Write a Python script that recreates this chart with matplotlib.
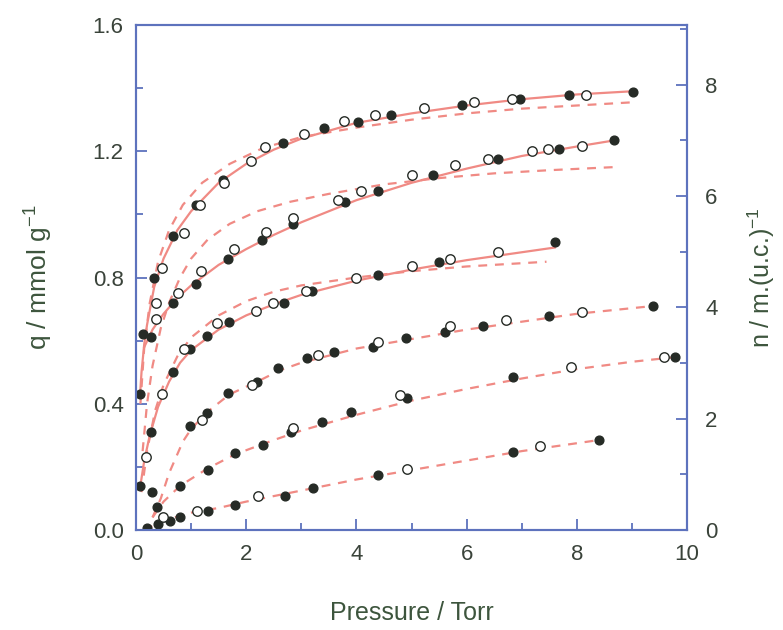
import matplotlib.pyplot as plt
import numpy as np
from matplotlib.ticker import MultipleLocator

plt.rcParams['font.family'] = ['Liberation Sans', 'DejaVu Sans']
plt.rcParams['mathtext.fontset'] = 'custom'
plt.rcParams['mathtext.rm'] = 'Liberation Sans'

# series 1 (top)
s1_fill_p = [0.07, 0.12, 0.33, 0.67, 1.08, 1.58, 2.67, 3.41, 4.02, 4.62, 5.92, 6.97, 7.86, 9.02]
s1_fill_q = [0.43, 0.62, 0.80, 0.93, 1.03, 1.11, 1.225, 1.275, 1.293, 1.315, 1.345, 1.367, 1.377, 1.389]
s1_open_p = [0.36, 0.36, 0.47, 0.87, 1.16, 1.60, 2.08, 2.35, 3.04, 3.78, 4.34, 5.23, 6.13, 6.82, 8.17]
s1_open_q = [0.67, 0.72, 0.83, 0.94, 1.03, 1.10, 1.17, 1.215, 1.255, 1.295, 1.315, 1.338, 1.355, 1.367, 1.377]
s1_fit_p = [0.07, 0.1, 0.15, 0.2, 0.33, 0.5, 0.75, 1.0, 1.5, 2.0, 2.5, 3.0, 4.0, 5.0, 6.0, 7.0, 8.0, 9.0]
s1_fit_q = [0.42, 0.50, 0.59, 0.65, 0.77, 0.86, 0.95, 1.01, 1.10, 1.16, 1.205, 1.24, 1.29, 1.32, 1.345, 1.365, 1.38, 1.39]
s1_dash_p = [0.08, 0.15, 0.25, 0.4, 0.6, 0.85, 1.2, 1.7, 2.3, 3.0, 4.0, 5.0, 6.0, 7.0, 8.0, 9.0]
s1_dash_q = [0.40, 0.58, 0.72, 0.85, 0.95, 1.03, 1.10, 1.16, 1.21, 1.245, 1.275, 1.30, 1.32, 1.335, 1.345, 1.355]

# series 2
s2_fill_p = [0.27, 0.67, 1.09, 1.67, 2.29, 2.85, 3.79, 4.39, 5.39, 6.57, 7.68, 8.68]
s2_fill_q = [0.61, 0.72, 0.78, 0.86, 0.92, 0.97, 1.04, 1.075, 1.125, 1.177, 1.208, 1.237]
s2_open_p = [0.76, 1.18, 1.78, 2.36, 2.85, 3.67, 4.08, 5.0, 5.79, 6.39, 7.19, 7.48, 8.09]
s2_open_q = [0.75, 0.82, 0.89, 0.945, 0.99, 1.047, 1.075, 1.125, 1.158, 1.177, 1.20, 1.208, 1.218]
s2_fit_p = [0.15, 0.3, 0.5, 0.75, 1.0, 1.5, 2.0, 2.5, 3.0, 3.5, 4.0, 5.0, 6.0, 7.0, 8.0, 8.7]
s2_fit_q = [0.58, 0.635, 0.685, 0.735, 0.775, 0.84, 0.89, 0.935, 0.975, 1.01, 1.045, 1.10, 1.145, 1.185, 1.215, 1.235]
s2_dash_p = [0.12, 0.2, 0.3, 0.45, 0.6, 0.8, 1.0, 1.3, 1.7, 2.2, 2.8, 3.5, 4.5, 5.5, 6.5, 7.5, 8.7]
s2_dash_q = [0.25, 0.40, 0.52, 0.64, 0.72, 0.80, 0.86, 0.92, 0.97, 1.01, 1.04, 1.065, 1.095, 1.115, 1.13, 1.14, 1.15]

# series 3
s3_fill_p = [0.07, 0.28, 0.67, 0.98, 1.29, 1.69, 2.69, 3.19, 4.39, 5.5, 7.6]
s3_fill_q = [0.14, 0.31, 0.50, 0.573, 0.614, 0.658, 0.72, 0.756, 0.807, 0.848, 0.911]
s3_open_p = [0.18, 0.47, 0.87, 1.47, 2.18, 2.49, 3.09, 3.99, 5.0, 5.7, 6.57]
s3_open_q = [0.23, 0.43, 0.573, 0.655, 0.693, 0.72, 0.756, 0.80, 0.835, 0.858, 0.88]
s3_fit_p = [0.07, 0.15, 0.25, 0.4, 0.6, 0.8, 1.0, 1.5, 2.0, 2.5, 3.0, 4.0, 5.0, 6.0, 7.0, 7.6]
s3_fit_q = [0.13, 0.22, 0.30, 0.39, 0.47, 0.53, 0.57, 0.635, 0.68, 0.715, 0.745, 0.79, 0.825, 0.855, 0.88, 0.895]
s3_dash_p = [0.1, 0.2, 0.35, 0.5, 0.75, 1.0, 1.5, 2.0, 2.5, 3.0, 4.0, 5.0, 6.0, 7.45]
s3_dash_q = [0.12, 0.25, 0.38, 0.46, 0.55, 0.61, 0.68, 0.725, 0.755, 0.775, 0.80, 0.82, 0.835, 0.85]

# series 4
s4_fill_p = [0.29, 0.98, 1.29, 1.67, 2.2, 2.58, 3.1, 3.6, 4.3, 4.9, 5.6, 6.3, 7.5, 9.38]
s4_fill_q = [0.12, 0.33, 0.37, 0.433, 0.47, 0.513, 0.544, 0.563, 0.58, 0.607, 0.627, 0.645, 0.677, 0.709]
s4_open_p = [1.2, 2.1, 3.3, 4.4, 5.7, 6.72, 8.1]
s4_open_q = [0.35, 0.46, 0.554, 0.595, 0.645, 0.665, 0.69]
s4_dash_p = [0.3, 0.45, 0.6, 0.85, 1.0, 1.3, 1.7, 2.2, 2.6, 3.0, 4.0, 5.0, 6.0, 7.0, 8.0, 9.4]
s4_dash_q = [0.04, 0.10, 0.18, 0.28, 0.32, 0.375, 0.43, 0.47, 0.505, 0.53, 0.575, 0.605, 0.635, 0.66, 0.685, 0.71]

# series 5
s5_fill_p = [0.38, 0.8, 1.3, 1.8, 2.3, 2.81, 3.37, 3.9, 4.92, 6.84, 9.78]
s5_fill_q = [0.073, 0.14, 0.19, 0.244, 0.27, 0.31, 0.342, 0.373, 0.418, 0.485, 0.548]
s5_open_p = [2.85, 4.8, 7.9, 9.58]
s5_open_q = [0.323, 0.427, 0.517, 0.548]
s5_dash_p = [0.3, 0.5, 0.8, 1.3, 1.8, 2.5, 3.0, 4.0, 5.0, 6.0, 7.0, 8.0, 9.0, 9.8]
s5_dash_q = [0.04, 0.09, 0.14, 0.195, 0.24, 0.285, 0.315, 0.365, 0.41, 0.447, 0.48, 0.51, 0.533, 0.548]

# series 6 (bottom)
s6_fill_p = [0.2, 0.4, 0.62, 0.8, 1.3, 1.8, 2.7, 3.21, 4.4, 6.84, 8.4]
s6_fill_q = [0.006, 0.02, 0.03, 0.04, 0.06, 0.08, 0.108, 0.133, 0.174, 0.247, 0.285]
s6_open_p = [0.49, 1.1, 2.22, 4.92, 7.33]
s6_open_q = [0.04, 0.06, 0.108, 0.193, 0.266]
s6_dash_p = [0.15, 0.5, 1.0, 1.5, 2.0, 3.0, 4.0, 5.0, 6.0, 7.0, 8.0, 8.4]
s6_dash_q = [0.0, 0.03, 0.055, 0.07, 0.09, 0.125, 0.16, 0.19, 0.22, 0.25, 0.275, 0.285]

line_c = '#f08a84'
mark_c = '#262b26'
spine_c = '#5d72bd'
text_c = '#3a433a'
label_c = '#3d553d'

fig = plt.figure(figsize=(7.83, 6.3), dpi=100)
ax = fig.add_axes([0.1737, 0.1587, 0.7037, 0.8016])
ax2 = ax.twinx()

fits = [(s1_fit_p, s1_fit_q), (s2_fit_p, s2_fit_q), (s3_fit_p, s3_fit_q)]
dashes = [(s1_dash_p, s1_dash_q), (s2_dash_p, s2_dash_q), (s3_dash_p, s3_dash_q),
          (s4_dash_p, s4_dash_q), (s5_dash_p, s5_dash_q), (s6_dash_p, s6_dash_q)]
fills = [(s1_fill_p, s1_fill_q), (s2_fill_p, s2_fill_q), (s3_fill_p, s3_fill_q),
         (s4_fill_p, s4_fill_q), (s5_fill_p, s5_fill_q), (s6_fill_p, s6_fill_q)]
opens = [(s1_open_p, s1_open_q), (s2_open_p, s2_open_q), (s3_open_p, s3_open_q),
         (s4_open_p, s4_open_q), (s5_open_p, s5_open_q), (s6_open_p, s6_open_q)]

for p, q in dashes:
    ax.plot(p, q, color=line_c, lw=1.6, dashes=(4, 3.5), zorder=2)
for p, q in fits:
    ax.plot(p, q, color=line_c, lw=1.6, zorder=2)
for p, q in fills:
    ax.plot(p, q, 'o', ms=6.3, mfc=mark_c, mec=mark_c, zorder=3)
for p, q in opens:
    ax.plot(p, q, 'o', ms=6.8, mfc='white', mec=mark_c, mew=1.0, zorder=4)

ax.set_xlim(0, 10)
ax.set_ylim(0, 1.6)
ax2.set_ylim(0, 9.07)

ax.xaxis.set_major_locator(MultipleLocator(2))
ax.xaxis.set_minor_locator(MultipleLocator(1))
ax.yaxis.set_major_locator(MultipleLocator(0.4))
ax.yaxis.set_minor_locator(MultipleLocator(0.2))
ax.yaxis.set_major_formatter(plt.FormatStrFormatter('%.1f'))
ax2.yaxis.set_major_locator(MultipleLocator(2))
ax2.yaxis.set_minor_locator(MultipleLocator(1))

for a in (ax, ax2):
    for s in a.spines.values():
        s.set_color(spine_c)
        s.set_linewidth(1.5)
    a.tick_params(which='major', direction='in', length=8, width=1.3, color=spine_c,
                  labelsize=16, labelcolor=text_c)
    a.tick_params(which='minor', direction='in', length=5, width=1.3, color=spine_c)
ax.tick_params(top=False, which='both')
ax.tick_params(axis='y', pad=9)
ax.tick_params(axis='x', pad=10)
ax2.tick_params(axis='y', pad=13)

ax.set_xlabel('Pressure / Torr', fontsize=18, color=label_c, labelpad=26)
ax.set_ylabel('q / mmol g$^{-1}$', fontsize=19, color=label_c, labelpad=28)
ax2.set_ylabel('n / m.(u.c.)$^{-1}$', fontsize=18, color=label_c, labelpad=20)

fig.savefig('out.png', dpi=100)
